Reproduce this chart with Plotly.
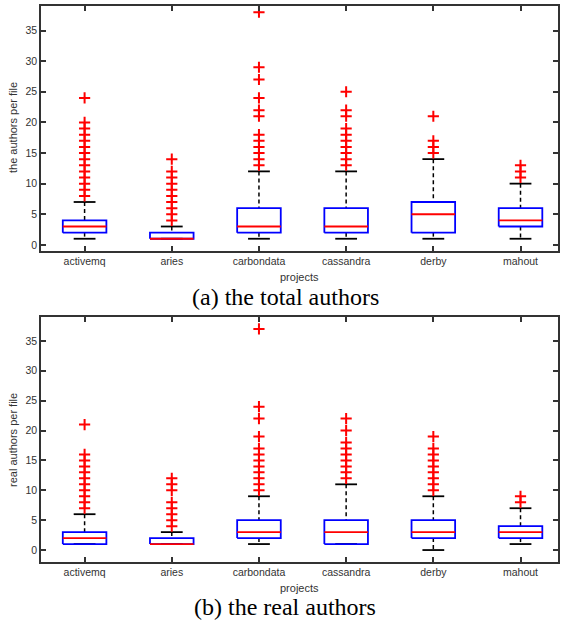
import plotly.graph_objects as go

projects = ["activemq", "aries", "carbondata", "cassandra", "derby", "mahout"]

# (a) the total authors
total_low = [1, 1, 1, 1, 1, 1]
total_q1 = [2, 1, 2, 2, 2, 3]
total_med = [3, 1, 3, 3, 5, 4]
total_q3 = [4, 2, 6, 6, 7, 6]
total_high = [7, 3, 12, 12, 14, 10]
total_out_activemq = [8, 9, 10, 11, 12, 13, 14, 15, 16, 17, 18, 19, 20, 24]
total_out_aries = [4, 5, 6, 7, 8, 9, 10, 11, 12, 14]
total_out_carbondata = [13, 14, 15, 16, 17, 18, 21, 22, 24, 27, 29, 38]
total_out_cassandra = [13, 14, 15, 16, 17, 18, 19, 21, 22, 25]
total_out_derby = [15, 16, 17, 21]
total_out_mahout = [11, 12, 13]

# (b) the real authors
real_low = [1, 1, 1, 1, 0, 1]
real_q1 = [1, 1, 2, 1, 2, 2]
real_med = [2, 1, 3, 3, 3, 3]
real_q3 = [3, 2, 5, 5, 5, 4]
real_high = [6, 3, 9, 11, 9, 7]
real_out_activemq = [7, 8, 9, 10, 11, 12, 13, 14, 15, 16, 21]
real_out_aries = [4, 5, 6, 7, 8, 10, 11, 12]
real_out_carbondata = [10, 11, 12, 13, 14, 15, 16, 17, 19, 22, 24, 37]
real_out_cassandra = [12, 13, 14, 15, 16, 17, 18, 20, 22]
real_out_derby = [10, 11, 12, 13, 14, 15, 16, 17, 19]
real_out_mahout = [8, 9]

yticks = [0, 5, 10, 15, 20, 25, 30, 35]

W, H = 561, 620
BOX_HW = 0.25
CAP_HW = 0.125

fig = go.Figure()


def add_panel(row, low, q1, med, q3, high, outs):
    xa = "x" if row == 1 else "x2"
    ya = "y" if row == 1 else "y2"
    pos = list(range(1, len(projects) + 1))
    # whiskers (dashed)
    wx, wy = [], []
    for p, lo, a, b, hi in zip(pos, low, q1, q3, high):
        wx += [p, p, None, p, p, None]
        wy += [hi, b, None, a, lo, None]
    fig.add_trace(go.Scatter(x=wx, y=wy, mode="lines", xaxis=xa, yaxis=ya,
                             line=dict(color="black", width=1.5, dash="4px,3px"),
                             hoverinfo="skip", showlegend=False))
    # caps
    cx, cy = [], []
    for p, lo, hi in zip(pos, low, high):
        cx += [p - CAP_HW, p + CAP_HW, None, p - CAP_HW, p + CAP_HW, None]
        cy += [hi, hi, None, lo, lo, None]
    fig.add_trace(go.Scatter(x=cx, y=cy, mode="lines", xaxis=xa, yaxis=ya,
                             line=dict(color="black", width=1.8),
                             hoverinfo="skip", showlegend=False))
    # boxes
    bx, by = [], []
    for p, a, b in zip(pos, q1, q3):
        bx += [p - BOX_HW, p + BOX_HW, p + BOX_HW, p - BOX_HW, p - BOX_HW, None]
        by += [a, a, b, b, a, None]
    fig.add_trace(go.Scatter(x=bx, y=by, mode="lines", xaxis=xa, yaxis=ya,
                             line=dict(color="#0000ff", width=1.8),
                             hoverinfo="skip", showlegend=False))
    # medians
    mx, my = [], []
    for p, m in zip(pos, med):
        mx += [p - BOX_HW, p + BOX_HW, None]
        my += [m, m, None]
    fig.add_trace(go.Scatter(x=mx, y=my, mode="lines", xaxis=xa, yaxis=ya,
                             line=dict(color="#ff0000", width=1.8),
                             hoverinfo="skip", showlegend=False))
    # outliers
    ox, oy = [], []
    for p, o in zip(pos, outs):
        ox += [p] * len(o)
        oy += o
    fig.add_trace(go.Scatter(x=ox, y=oy, mode="markers", xaxis=xa, yaxis=ya,
                             marker=dict(symbol="cross-thin", size=8,
                                         line=dict(color="#ff0000", width=2)),
                             hoverinfo="skip", showlegend=False))


add_panel(1, total_low, total_q1, total_med, total_q3, total_high,
          [total_out_activemq, total_out_aries, total_out_carbondata,
           total_out_cassandra, total_out_derby, total_out_mahout])
add_panel(2, real_low, real_q1, real_med, real_q3, real_high,
          [real_out_activemq, real_out_aries, real_out_carbondata,
           real_out_cassandra, real_out_derby, real_out_mahout])

x_dom = [41 / W, 558 / W]
top_dom = [1 - 251 / H, 1 - 6 / H]
bot_dom = [1 - 562 / H, 1 - 317 / H]

axis_common = dict(showgrid=False, zeroline=False, showline=True, linecolor="#333333",
                   linewidth=1.5, mirror="ticks", ticks="inside", ticklen=5,
                   tickcolor="#333333", tickwidth=1.5,
                   tickfont=dict(family="Liberation Sans, Arial", size=10.5, color="#333333"))

xa_common = dict(axis_common, range=[0.5, 6.43], tickvals=list(range(1, len(projects) + 1)),
                 ticktext=projects, domain=x_dom)

fig.update_layout(
    width=W, height=H,
    margin=dict(l=0, r=0, t=0, b=0),
    paper_bgcolor="white", plot_bgcolor="white",
    showlegend=False,
    xaxis=dict(xa_common, anchor="y"),
    yaxis=dict(axis_common, range=[-1, 39], tickvals=yticks, domain=top_dom, anchor="x"),
    xaxis2=dict(xa_common, anchor="y2"),
    yaxis2=dict(axis_common, range=[-2, 39], tickvals=yticks, domain=bot_dom, anchor="x2"),
)

lab_font = dict(family="Liberation Sans, Arial", size=11, color="#333333")
cap_font = dict(family="Liberation Serif, Times New Roman", size=24, color="black")
xc = (x_dom[0] + x_dom[1]) / 2

fig.add_annotation(text="the authors per file", x=13 / W, y=1 - 128 / H, xref="paper", yref="paper",
                   xanchor="center", yanchor="middle",
                   textangle=-90, showarrow=False, font=lab_font)
fig.add_annotation(text="real authors per file", x=13 / W, y=1 - 440 / H, xref="paper", yref="paper",
                   xanchor="center", yanchor="middle",
                   textangle=-90, showarrow=False, font=lab_font)
fig.add_annotation(text="projects", x=xc, y=1 - 277 / H, xref="paper", yref="paper",
                   xanchor="center", yanchor="middle", showarrow=False, font=lab_font)
fig.add_annotation(text="projects", x=xc, y=1 - 588 / H, xref="paper", yref="paper",
                   xanchor="center", yanchor="middle", showarrow=False, font=lab_font)
fig.add_annotation(text="(a) the total authors", x=285 / W, y=1 - 297 / H, xref="paper", yref="paper",
                   xanchor="center", yanchor="middle", showarrow=False, font=cap_font)
fig.add_annotation(text="(b) the real authors", x=285 / W, y=1 - 607 / H, xref="paper", yref="paper",
                   xanchor="center", yanchor="middle", showarrow=False, font=cap_font)

fig.write_html("out.html", config={"displayModeBar": False},
               post_script="document.body.style.margin='0';document.body.style.overflow='hidden';")
